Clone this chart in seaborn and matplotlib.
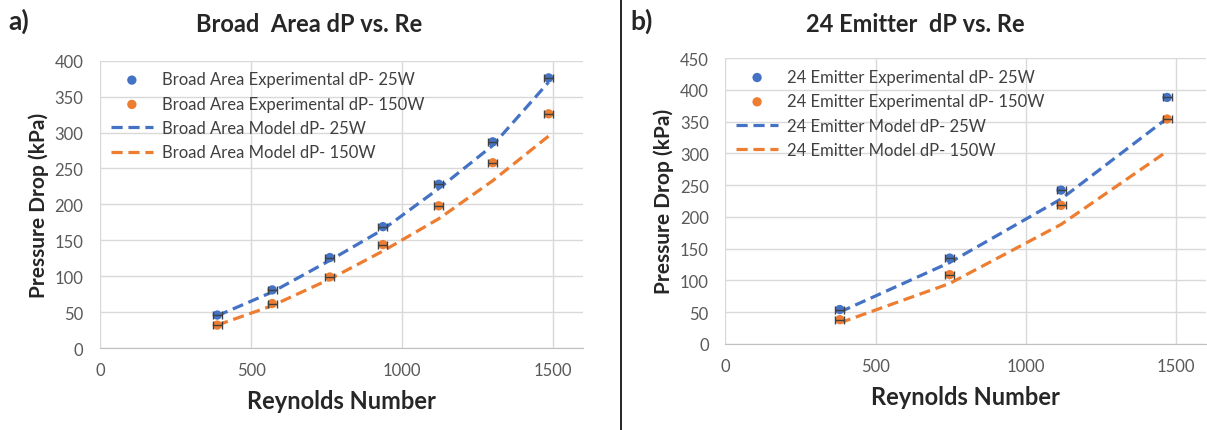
import numpy as np
import pandas as pd
import matplotlib
matplotlib.use("Agg")
import matplotlib.pyplot as plt
import seaborn as sns

# panel a - Broad Area
re_a = [388, 570, 761, 937, 1122, 1301, 1486]
exp25_a = [46, 81, 126, 169, 228, 287, 376]
exp150_a = [32, 62, 99, 144, 198, 258, 326]
mod25_a = [45, 78, 122, 165, 222, 282, 370]
mod150_a = [32, 59, 96, 135, 180, 233, 295]

# panel b - 24 Emitter
re_b = [381, 747, 1118, 1471]
exp25_b = [54, 135, 242, 388]
exp150_b = [38, 109, 218, 354]
mod25_b = [50, 128, 228, 355]
mod150_b = [33, 95, 188, 303]

re_err = 15

blue = "#4472C4"
orange = "#ED7D31"
grid = "#D9D9D9"

sns.set_style("white")
plt.rcParams['font.family'] = ['Lato', 'DejaVu Sans']

fig = plt.figure(figsize=(12.07, 4.31), dpi=100)
ax1 = fig.add_axes([0.083, 0.190, 0.400, 0.667])
ax2 = fig.add_axes([0.601, 0.200, 0.398, 0.663])


def draw(ax, name, re, e25, e150, m25, m150, ymax, ystep):
    df = pd.DataFrame({"Re": re, "e25": e25, "e150": e150, "m25": m25, "m150": m150})
    sns.scatterplot(data=df, x="Re", y="e25", color=blue, s=45, edgecolor="none",
                    ax=ax, label=f"{name} Experimental dP- 25W", zorder=3)
    sns.scatterplot(data=df, x="Re", y="e150", color=orange, s=45, edgecolor="none",
                    ax=ax, label=f"{name} Experimental dP- 150W", zorder=3)
    sns.lineplot(data=df, x="Re", y="m25", color=blue, lw=2.3, ax=ax,
                 label=f"{name} Model dP- 25W", zorder=2)
    sns.lineplot(data=df, x="Re", y="m150", color=orange, lw=2.3, ax=ax,
                 label=f"{name} Model dP- 150W", zorder=2)
    for l in ax.lines:
        l.set_dashes([3.5, 1.8])
    ax.errorbar(re, e25, xerr=re_err, fmt="none", ecolor="#404040", elinewidth=1, capsize=3, zorder=4)
    ax.errorbar(re, e150, xerr=re_err, fmt="none", ecolor="#404040", elinewidth=1, capsize=3, zorder=4)

    ax.set_xlim(0, 1600)
    ax.set_ylim(0, ymax)
    ax.set_xticks([0, 500, 1000, 1500])
    ax.set_yticks(np.arange(0, ymax + 1, ystep))
    ax.grid(True, color=grid, lw=1)
    ax.set_axisbelow(True)
    for s in ["top", "right", "left"]:
        ax.spines[s].set_visible(False)
    ax.spines["bottom"].set_color("#BFBFBF")
    ax.tick_params(axis="x", labelsize=12, colors="#595959", length=0, pad=10)
    ax.tick_params(axis="y", labelsize=12, colors="#595959", length=0, pad=12)
    ax.set_xlabel("Reynolds Number", fontsize=17, fontweight="bold", labelpad=8)
    ax.set_ylabel("Pressure Drop (kPa)", fontsize=15, fontweight="bold", labelpad=4)
    ax.legend(loc="upper left", frameon=False, fontsize=12, handlelength=2.5,
              handletextpad=0.55, borderaxespad=0.25, labelspacing=0.5,
              labelcolor="#404040")


draw(ax1, "Broad Area", re_a, exp25_a, exp150_a, mod25_a, mod150_a, 400, 50)
draw(ax2, "24 Emitter", re_b, exp25_b, exp150_b, mod25_b, mod150_b, 450, 50)

fig.text(0.256, 0.942, "Broad  Area dP vs. Re", ha="center", va="center", fontsize=17, fontweight="bold")
fig.text(0.758, 0.942, "24 Emitter  dP vs. Re", ha="center", va="center", fontsize=17, fontweight="bold")
fig.text(0.007, 0.950, "a)", ha="left", va="center", fontsize=19, fontweight="bold")
fig.text(0.522, 0.950, "b)", ha="left", va="center", fontsize=19, fontweight="bold")
fig.add_artist(plt.Line2D([0.5145, 0.5145], [0, 1], color="black", lw=1.2))

fig.savefig("out.png", dpi=100)
